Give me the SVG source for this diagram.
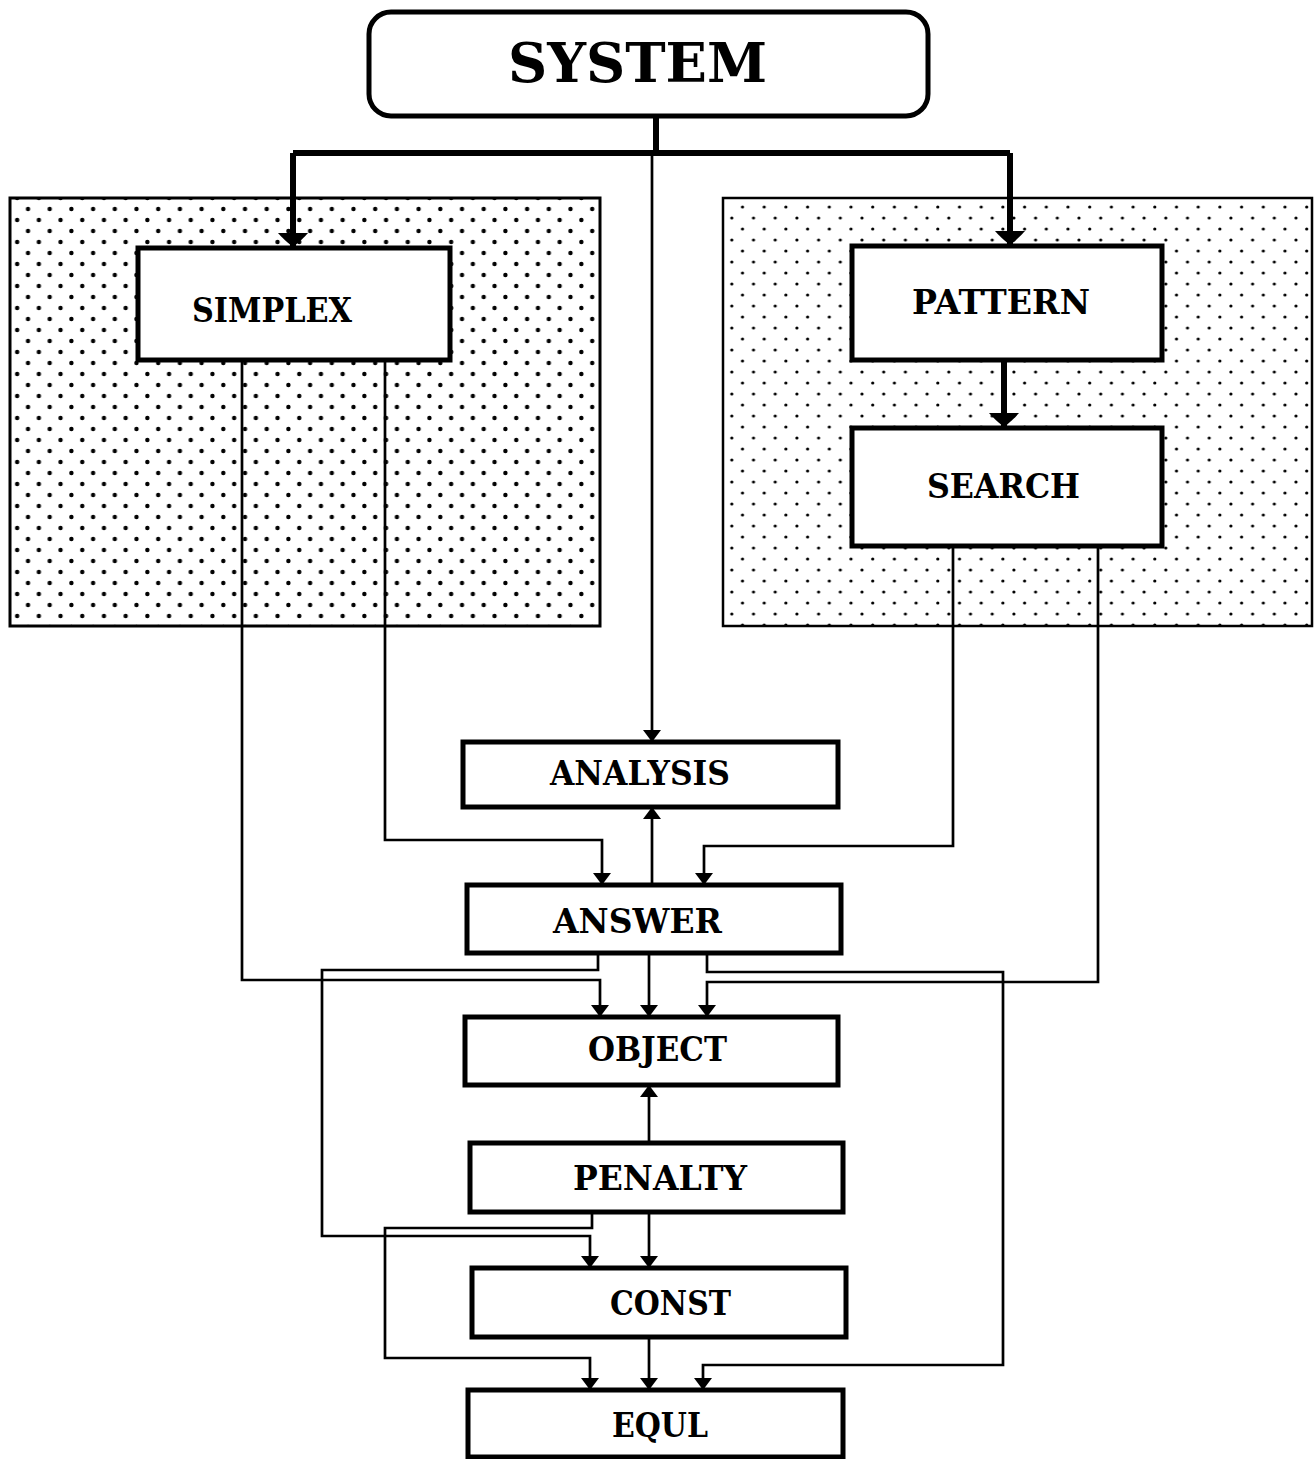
<svg xmlns="http://www.w3.org/2000/svg" width="1314" height="1459" viewBox="0 0 1314 1459">
<style>
.box{fill:#fff;stroke:#000;stroke-width:5}
.lbl{font-family:"DejaVu Serif","Liberation Serif",serif;font-weight:bold;font-size:34px;fill:#000}
.thin{fill:none;stroke:#000;stroke-width:2.7}
.thick{fill:none;stroke:#000;stroke-width:6}
</style>
<defs>
<pattern id="dotsL" patternUnits="userSpaceOnUse" x="0" y="0" width="21.7" height="22">
<circle cx="6.3" cy="11" r="2.2" fill="#000"/>
<circle cx="17.15" cy="0" r="2.2" fill="#000"/>
<circle cx="17.15" cy="22" r="2.2" fill="#000"/>
</pattern>
<pattern id="dotsR" patternUnits="userSpaceOnUse" x="0" y="0" width="21.7" height="22">
<circle cx="15.7" cy="20" r="1.6" fill="#000"/>
<circle cx="4.7" cy="9" r="1.6" fill="#000"/>
</pattern>
<marker id="a" markerUnits="userSpaceOnUse" markerWidth="16" markerHeight="22" viewBox="0 -11 14 22" refX="12" refY="0" orient="auto">
<path d="M0,-9 L12,0 L0,9 Z" fill="#000"/>
</marker>
<marker id="A" markerUnits="userSpaceOnUse" markerWidth="18" markerHeight="34" viewBox="0 -17 16 34" refX="14" refY="0" orient="auto">
<path d="M0,-15 Q6,-10 14,0 Q6,10 0,15 Z" fill="#000"/>
</marker>
</defs>

<g id="panel-left">
<rect x="10" y="198" width="590" height="428" fill="url(#dotsL)" stroke="#000" stroke-width="3"/>
</g>
<g id="panel-right">
<rect x="723" y="198" width="589" height="428" fill="url(#dotsR)" stroke="#000" stroke-width="2.5"/>
</g>

<g id="connectors">
<path class="thick" d="M656,116 V153"/>
<path class="thick" d="M293,153 H1010"/>
<path class="thick" d="M293,153 V247" marker-end="url(#A)"/>
<path class="thick" d="M1010,153 V245" marker-end="url(#A)"/>
<path class="thin" d="M652,153 V742" marker-end="url(#a)"/>
<path class="thick" d="M1004,360 V427" marker-end="url(#A)"/>
<path class="thin" d="M242,360 V980 H600 V1017" marker-end="url(#a)"/>
<path class="thin" d="M385,360 V840 H602 V885" marker-end="url(#a)"/>
<path class="thin" d="M953,546 V846 H704 V885" marker-end="url(#a)"/>
<path class="thin" d="M1098,546 V982 H707 V1017" marker-end="url(#a)"/>
<path class="thin" d="M652,885 V807" marker-end="url(#a)"/>
<path class="thin" d="M649,953 V1017" marker-end="url(#a)"/>
<path class="thin" d="M598,953 V970 H322 V1236 H590 V1268" marker-end="url(#a)"/>
<path class="thin" d="M707,953 V972 H1003 V1365 H703 V1390" marker-end="url(#a)"/>
<path class="thin" d="M649,1143 V1085" marker-end="url(#a)"/>
<path class="thin" d="M649,1212 V1268" marker-end="url(#a)"/>
<path class="thin" d="M592,1212 V1228 H385 V1358 H590 V1390" marker-end="url(#a)"/>
<path class="thin" d="M649,1337 V1390" marker-end="url(#a)"/>
</g>

<g id="SYSTEM">
<rect x="369" y="12" width="559" height="104" rx="22" ry="22" fill="#fff" stroke="#000" stroke-width="5"/>
<text x="508" y="82" class="lbl" style="font-size:55px" textLength="259" lengthAdjust="spacingAndGlyphs">SYSTEM</text>
</g>
<g id="SIMPLEX">
<rect class="box" x="138" y="248" width="312" height="112"/>
<text x="192" y="322" class="lbl" textLength="160" lengthAdjust="spacingAndGlyphs">SIMPLEX</text>
</g>
<g id="PATTERN">
<rect class="box" x="852" y="246" width="310" height="114"/>
<text x="912" y="314" class="lbl" textLength="178" lengthAdjust="spacingAndGlyphs">PATTERN</text>
</g>
<g id="SEARCH">
<rect class="box" x="852" y="428" width="310" height="118"/>
<text x="927" y="498" class="lbl" textLength="153" lengthAdjust="spacingAndGlyphs">SEARCH</text>
</g>
<g id="ANALYSIS">
<rect class="box" x="463" y="742" width="375" height="65"/>
<text x="550" y="785" class="lbl" textLength="180" lengthAdjust="spacingAndGlyphs">ANALYSIS</text>
</g>
<g id="ANSWER">
<rect class="box" x="467" y="885" width="374" height="68"/>
<text x="553" y="933" class="lbl" textLength="169" lengthAdjust="spacingAndGlyphs">ANSWER</text>
</g>
<g id="OBJECT">
<rect class="box" x="465" y="1017" width="373" height="68"/>
<text x="588" y="1061" class="lbl" textLength="139" lengthAdjust="spacingAndGlyphs">OBJECT</text>
</g>
<g id="PENALTY">
<rect class="box" x="470" y="1143" width="373" height="69"/>
<text x="573" y="1190" class="lbl" textLength="174" lengthAdjust="spacingAndGlyphs">PENALTY</text>
</g>
<g id="CONST">
<rect class="box" x="472" y="1268" width="374" height="69"/>
<text x="610" y="1315" class="lbl" textLength="121" lengthAdjust="spacingAndGlyphs">CONST</text>
</g>
<g id="EQUL">
<rect class="box" x="468" y="1390" width="375" height="67"/>
<text x="612" y="1437" class="lbl" textLength="96" lengthAdjust="spacingAndGlyphs">EQUL</text>
</g>
</svg>
